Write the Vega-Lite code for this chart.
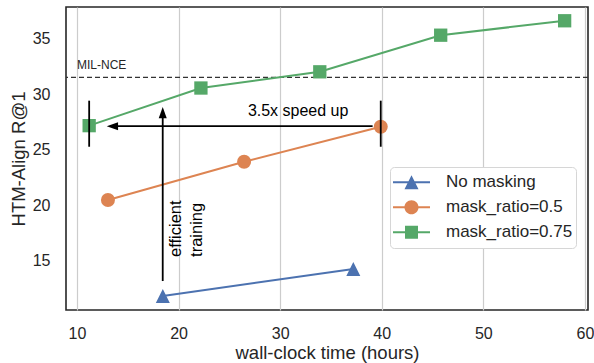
{
  "$schema": "https://vega.github.io/schema/vega-lite/v6.json",
  "width": 522,
  "height": 303,
  "autosize": {"type": "none"},
  "padding": {"left": 66, "top": 7, "right": 6, "bottom": 53},
  "background": "white",
  "config": {
    "font": "Liberation Sans",
    "view": {"stroke": "#262626", "strokeWidth": 1.6},
    "axis": {
      "labelFont": "Liberation Sans",
      "titleFont": "Liberation Sans",
      "labelColor": "#262626",
      "titleColor": "#262626",
      "titleFontWeight": "normal",
      "domain": false,
      "ticks": false,
      "tickSize": 0,
      "labelFontSize": 16,
      "titleFontSize": 18.5
    }
  },
  "datasets": {
    "series": [
      {"series": "No masking", "x": 18.45, "y": 11.8},
      {"series": "No masking", "x": 37.2, "y": 14.23},
      {"series": "mask_ratio=0.5", "x": 13.05, "y": 20.45},
      {"series": "mask_ratio=0.5", "x": 26.45, "y": 23.9},
      {"series": "mask_ratio=0.5", "x": 39.9, "y": 27.05},
      {"series": "mask_ratio=0.75", "x": 11.2, "y": 27.15},
      {"series": "mask_ratio=0.75", "x": 22.2, "y": 30.54},
      {"series": "mask_ratio=0.75", "x": 33.9, "y": 32.0},
      {"series": "mask_ratio=0.75", "x": 45.8, "y": 35.3},
      {"series": "mask_ratio=0.75", "x": 58.0, "y": 36.6}
    ],
    "baseline": [{"label": "MIL-NCE", "y": 31.5, "x": 10.0, "ly": 32.25}],
    "segments": [
      {"x": 13.6, "x2": 39.1, "y": 27.1, "y2": 27.1},
      {"x": 11.2, "x2": 11.2, "y": 25.25, "y2": 29.4},
      {"x": 39.9, "x2": 39.9, "y": 25.25, "y2": 29.4},
      {"x": 18.44, "x2": 18.44, "y": 13.15, "y2": 28.2}
    ],
    "heads": [
      {"dir": "left", "x": 12.93, "y": 27.1},
      {"dir": "up", "x": 18.44, "y": 28.83}
    ],
    "notes": [
      {"kind": "speed", "label": "3.5x speed up", "x": 31.77, "y": 28.47},
      {"kind": "train", "label": "efficient\ntraining", "x": 19.75, "y": 15.32}
    ]
  },
  "layer": [
    {
      "data": {"name": "baseline"},
      "mark": {"type": "rule", "color": "#333333", "strokeWidth": 1.4, "strokeDash": [5, 3]},
      "encoding": {
        "y": {
          "field": "y",
          "type": "quantitative",
          "scale": {"domain": [10.54, 37.84], "nice": false, "zero": false},
          "axis": {"title": "HTM-Align R@1", "values": [15, 20, 25, 30, 35], "grid": false, "labelPadding": 16, "titlePadding": 4}
        }
      }
    },
    {
      "data": {"name": "series"},
      "transform": [{"filter": "datum.series === 'No masking'"}],
      "mark": {"type": "line", "strokeWidth": 2, "color": "#4c72b0"},
      "encoding": {
        "x": {
          "field": "x",
          "type": "quantitative",
          "scale": {"domain": [8.92, 60.3], "nice": false, "zero": false},
          "axis": {"title": "wall-clock time (hours)", "values": [10, 20, 30, 40, 50, 60], "grid": true, "gridColor": "#cccccc", "gridWidth": 1.2, "labelPadding": 15, "titlePadding": 2}
        },
        "y": {"field": "y", "type": "quantitative"}
      }
    },
    {
      "data": {"name": "series"},
      "transform": [{"filter": "datum.series === 'mask_ratio=0.5'"}],
      "mark": {"type": "line", "strokeWidth": 2, "color": "#dd8452"},
      "encoding": {
        "x": {"field": "x", "type": "quantitative"},
        "y": {"field": "y", "type": "quantitative"}
      }
    },
    {
      "data": {"name": "series"},
      "transform": [{"filter": "datum.series === 'mask_ratio=0.75'"}],
      "mark": {"type": "line", "strokeWidth": 2, "color": "#55a868"},
      "encoding": {
        "x": {"field": "x", "type": "quantitative"},
        "y": {"field": "y", "type": "quantitative"}
      }
    },
    {
      "data": {"name": "series"},
      "transform": [{"filter": "datum.series === 'No masking'"}],
      "mark": {"type": "point", "filled": true, "opacity": 1, "color": "#4c72b0", "size": 196, "shape": "M0,-1L1,1L-1,1Z"},
      "encoding": {
        "x": {"field": "x", "type": "quantitative"},
        "y": {"field": "y", "type": "quantitative"}
      }
    },
    {
      "data": {"name": "series"},
      "transform": [{"filter": "datum.series === 'mask_ratio=0.5'"}],
      "mark": {"type": "point", "filled": true, "opacity": 1, "color": "#dd8452", "size": 196, "shape": "circle"},
      "encoding": {
        "x": {"field": "x", "type": "quantitative"},
        "y": {"field": "y", "type": "quantitative"}
      }
    },
    {
      "data": {"name": "series"},
      "transform": [{"filter": "datum.series === 'mask_ratio=0.75'"}],
      "mark": {"type": "point", "filled": true, "opacity": 1, "color": "#55a868", "size": 177, "shape": "square"},
      "encoding": {
        "x": {"field": "x", "type": "quantitative"},
        "y": {"field": "y", "type": "quantitative"}
      }
    },
    {
      "data": {"name": "series"},
      "mark": {"type": "point", "filled": true, "opacity": 0},
      "encoding": {
        "x": {"field": "x", "type": "quantitative"},
        "y": {"field": "y", "type": "quantitative"},
        "color": {
          "field": "series",
          "type": "nominal",
          "scale": {"domain": ["No masking", "mask_ratio=0.5", "mask_ratio=0.75"], "range": ["#4c72b0", "#dd8452", "#55a868"]},
          "legend": {
            "orient": "none",
            "legendX": 324,
            "legendY": 160,
            "title": null,
            "padding": 3,
            "fillColor": "white",
            "strokeColor": "#d6d6d6",
            "cornerRadius": 4,
            "labelFont": "Liberation Sans",
            "labelFontSize": 17,
            "labelColor": "#262626",
            "symbolSize": 1369,
            "symbolOpacity": 1,
            "symbolStrokeWidth": 0,
            "labelOffset": 16,
            "rowPadding": 0,
            "clipHeight": 24.5
          }
        },
        "shape": {
          "field": "series",
          "type": "nominal",
          "scale": {
            "domain": ["No masking", "mask_ratio=0.5", "mask_ratio=0.75"],
            "range": [
              "M-1,-0.055H1V0.055H-1Z M0,-0.38L0.38,0.38L-0.38,0.38Z",
              "M-1,-0.055H1V0.055H-1Z M0.38,0A0.38,0.38 0 1,1 -0.38,0A0.38,0.38 0 1,1 0.38,0Z",
              "M-1,-0.055H1V0.055H-1Z M-0.35,-0.35H0.35V0.35H-0.35Z"
            ]
          },
          "legend": {
            "orient": "none",
            "legendX": 324,
            "legendY": 160,
            "title": null,
            "padding": 3,
            "fillColor": "white",
            "strokeColor": "#d6d6d6",
            "cornerRadius": 4,
            "labelFont": "Liberation Sans",
            "labelFontSize": 17,
            "labelColor": "#262626",
            "symbolSize": 1369,
            "symbolOpacity": 1,
            "symbolStrokeWidth": 0,
            "labelOffset": 16,
            "rowPadding": 0,
            "clipHeight": 24.5
          }
        }
      }
    },
    {
      "data": {"name": "baseline"},
      "mark": {"type": "text", "align": "left", "baseline": "alphabetic", "fontSize": 12, "color": "#262626", "font": "Liberation Sans"},
      "encoding": {
        "x": {"field": "x", "type": "quantitative"},
        "y": {"field": "ly", "type": "quantitative"},
        "text": {"field": "label"}
      }
    },
    {
      "data": {"name": "segments"},
      "mark": {"type": "rule", "color": "black", "strokeWidth": 1.8},
      "encoding": {
        "x": {"field": "x", "type": "quantitative"},
        "x2": {"field": "x2"},
        "y": {"field": "y", "type": "quantitative"},
        "y2": {"field": "y2"}
      }
    },
    {
      "data": {"name": "heads"},
      "transform": [{"filter": "datum.dir === 'left'"}],
      "mark": {"type": "point", "filled": true, "opacity": 1, "color": "black", "size": 128, "shape": "M0,0L2,-0.71L2,0.71Z"},
      "encoding": {
        "x": {"field": "x", "type": "quantitative"},
        "y": {"field": "y", "type": "quantitative"}
      }
    },
    {
      "data": {"name": "heads"},
      "transform": [{"filter": "datum.dir === 'up'"}],
      "mark": {"type": "point", "filled": true, "opacity": 1, "color": "black", "size": 128, "shape": "M0,0L0.71,2L-0.71,2Z"},
      "encoding": {
        "x": {"field": "x", "type": "quantitative"},
        "y": {"field": "y", "type": "quantitative"}
      }
    },
    {
      "data": {"name": "notes"},
      "transform": [{"filter": "datum.kind === 'speed'"}],
      "mark": {"type": "text", "align": "center", "baseline": "middle", "fontSize": 16, "color": "black", "font": "Liberation Sans"},
      "encoding": {
        "x": {"field": "x", "type": "quantitative"},
        "y": {"field": "y", "type": "quantitative"},
        "text": {"field": "label"}
      }
    },
    {
      "data": {"name": "notes"},
      "transform": [{"filter": "datum.kind === 'train'"}],
      "mark": {"type": "text", "align": "left", "baseline": "middle", "angle": 270, "fontSize": 16.5, "lineBreak": "\n", "lineHeight": 20.5, "color": "black", "font": "Liberation Sans"},
      "encoding": {
        "x": {"field": "x", "type": "quantitative"},
        "y": {"field": "y", "type": "quantitative"},
        "text": {"field": "label"}
      }
    }
  ]
}
